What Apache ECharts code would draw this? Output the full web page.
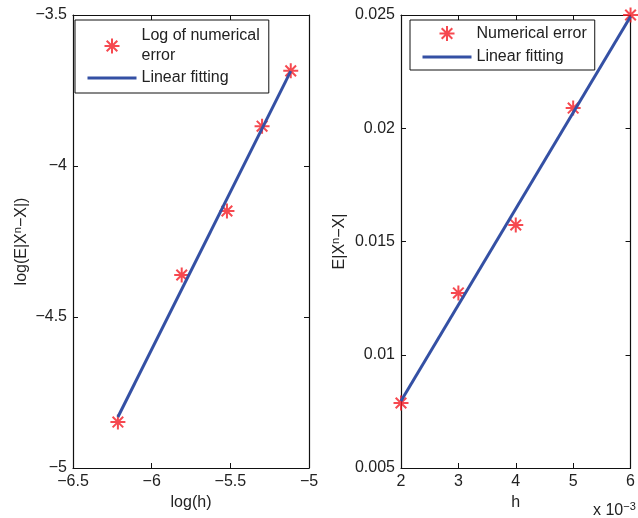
<!DOCTYPE html>
<html><head><meta charset="utf-8">
<script src="https://cdn.jsdelivr.net/npm/echarts@6/dist/echarts.min.js"></script>
<style>html,body{margin:0;padding:0;background:#fff}#c{width:638px;height:518px}</style>
</head><body><div id="c"></div>
<script>
// Left panel: log-log data
const logH = [-6.2146, -5.8091, -5.5215, -5.2983, -5.1160];
const logErr = [-4.848, -4.361, -4.149, -3.868, -3.685];
const logFitX = [-6.2146, -5.1160];
const logFitY = [-4.831, -3.686];
// Right panel: raw data
const hVals = [0.002, 0.003, 0.004, 0.005, 0.006];
const errVals = [0.00787, 0.01273, 0.01573, 0.02089, 0.0250];
const fitX = [0.002, 0.006];
const fitY = [0.00796, 0.02493];
const leftXTicks = {min: -6.5, max: -5, interval: 0.5};
const leftYTicks = {min: -5, max: -3.5, interval: 0.5};
const rightXTicks = {min: 0.002, max: 0.006, interval: 0.001};
const rightYTicks = {min: 0.005, max: 0.025, interval: 0.005};

const FONT = 'Liberation Sans, Arial, Helvetica, sans-serif';
const FS = 16;
const AX = '#111';
const RED = '#f41c24';
const BLUE = '#3450a4';
const star = 'path://M0,-10L0,10M-10,0L10,0M-7.07,-7.07L7.07,7.07M-7.07,7.07L7.07,-7.07';
const minus = v => String(v).replace('-', '\u2212');

function mainAxis(t, pos, fmt, name, gap, rot) {
  return {
    type: 'value', position: pos, min: t.min, max: t.max, interval: t.interval,
    axisLine: {show: true, onZero: false, lineStyle: {color: AX, width: 1.2}},
    axisTick: {show: true, inside: true, length: 5, lineStyle: {color: AX}},
    axisLabel: {color: '#222', fontFamily: FONT, fontSize: FS, margin: 6, formatter: fmt},
    splitLine: {show: false},
    name: name, nameLocation: 'middle', nameGap: gap, nameRotate: rot,
    nameTextStyle: {color: '#222', fontFamily: FONT, fontSize: FS,
      rich: {sup: {fontSize: 11, fontFamily: FONT, color: '#222', verticalAlign: 'top', padding: [0,0,8,0]},
             n: {fontSize: FS, fontFamily: FONT, color: '#222'}}}
  };
}
function mirrorAxis(t, pos, gi) {
  return {
    type: 'value', position: pos, min: t.min, max: t.max, interval: t.interval, gridIndex: gi,
    axisLine: {show: true, onZero: false, lineStyle: {color: AX, width: 1.2}},
    axisTick: {show: true, inside: true, length: 5, lineStyle: {color: AX}},
    axisLabel: {show: false}, splitLine: {show: false}
  };
}

const lx = mainAxis(leftXTicks, 'bottom', minus, 'log(h)', 26, 0); lx.gridIndex = 0;
const ly = mainAxis(leftYTicks, 'left', minus, '{n|log(E|X}{sup|n}{n|\u2212X|)}', 42, 90); ly.gridIndex = 0;
const rx = mainAxis(rightXTicks, 'bottom', v => String(Math.round(v * 1000)), 'h', 26, 0); rx.gridIndex = 1;
const ry = mainAxis(rightYTicks, 'left', v => String(+v.toFixed(3)), '{n|E|X}{sup|n}{n|\u2212X|}', 52, 90); ry.gridIndex = 1;

const hideSym = {color: 'transparent', borderColor: 'transparent', borderWidth: 0};
const chart = echarts.init(document.getElementById('c'), null, {renderer: 'canvas'});
chart.setOption({
  animation: false,
  backgroundColor: '#fff',
  grid: [
    {left: 73, top: 15, width: 236, height: 453},
    {left: 401, top: 15, width: 235, height: 453}
  ],
  xAxis: [lx, mirrorAxis(leftXTicks, 'top', 0), rx, mirrorAxis(rightXTicks, 'top', 1)],
  yAxis: [ly, mirrorAxis(leftYTicks, 'right', 0), ry, mirrorAxis(rightYTicks, 'right', 1)],
  legend: [
    {orient: 'vertical', left: 75, top: 20,
     data: [{name: 'Log of numerical\nerror'}, {name: 'Linear fitting ', itemStyle: hideSym, lineStyle: {width: 3, color: BLUE}}],
     backgroundColor: '#fff', borderColor: '#111', borderWidth: 1, padding: [6, 9, 5, 11],
     itemWidth: 49, itemHeight: 15, itemGap: 2,
     textStyle: {fontFamily: FONT, fontSize: FS, color: '#222', lineHeight: 20}},
    {orient: 'vertical', left: 410, top: 20,
     data: [{name: 'Numerical error'}, {name: 'Linear fitting', itemStyle: hideSym, lineStyle: {width: 3, color: BLUE}}],
     backgroundColor: '#fff', borderColor: '#111', borderWidth: 1, padding: [5, 8, 5, 11],
     itemWidth: 49, itemHeight: 15, itemGap: 7,
     textStyle: {fontFamily: FONT, fontSize: FS, color: '#222'}}
  ],
  series: [
    {name: 'Log of numerical\nerror', type: 'scatter', xAxisIndex: 0, yAxisIndex: 0, symbol: star, symbolSize: 15, clip: false,
     data: logH.map((x, i) => [x, logErr[i]]), itemStyle: {color: 'transparent', borderColor: RED, borderWidth: 2}, z: 2},
    {name: 'Linear fitting ', type: 'line', xAxisIndex: 0, yAxisIndex: 0, symbol: 'none',
     data: logFitX.map((x, i) => [x, logFitY[i]]), lineStyle: {color: BLUE, width: 3}, itemStyle: {color: BLUE}, z: 3},
    {name: 'Numerical error', type: 'scatter', xAxisIndex: 2, yAxisIndex: 2, symbol: star, symbolSize: 15, clip: false,
     data: hVals.map((x, i) => [x, errVals[i]]), itemStyle: {color: 'transparent', borderColor: RED, borderWidth: 2}, z: 2},
    {name: 'Linear fitting', type: 'line', xAxisIndex: 2, yAxisIndex: 2, symbol: 'none',
     data: fitX.map((x, i) => [x, fitY[i]]), lineStyle: {color: BLUE, width: 3}, itemStyle: {color: BLUE}, z: 3}
  ],
  graphic: [
    {type: 'text', left: 593, top: 501, z: 10,
     style: {text: 'x 10{sup|\u22123}', fill: '#222', font: FS + 'px ' + FONT,
       rich: {sup: {fontSize: 11, fontFamily: FONT, fill: '#222', verticalAlign: 'top', padding: [0,0,8,0]}}}}
  ]
});
</script></body></html>
